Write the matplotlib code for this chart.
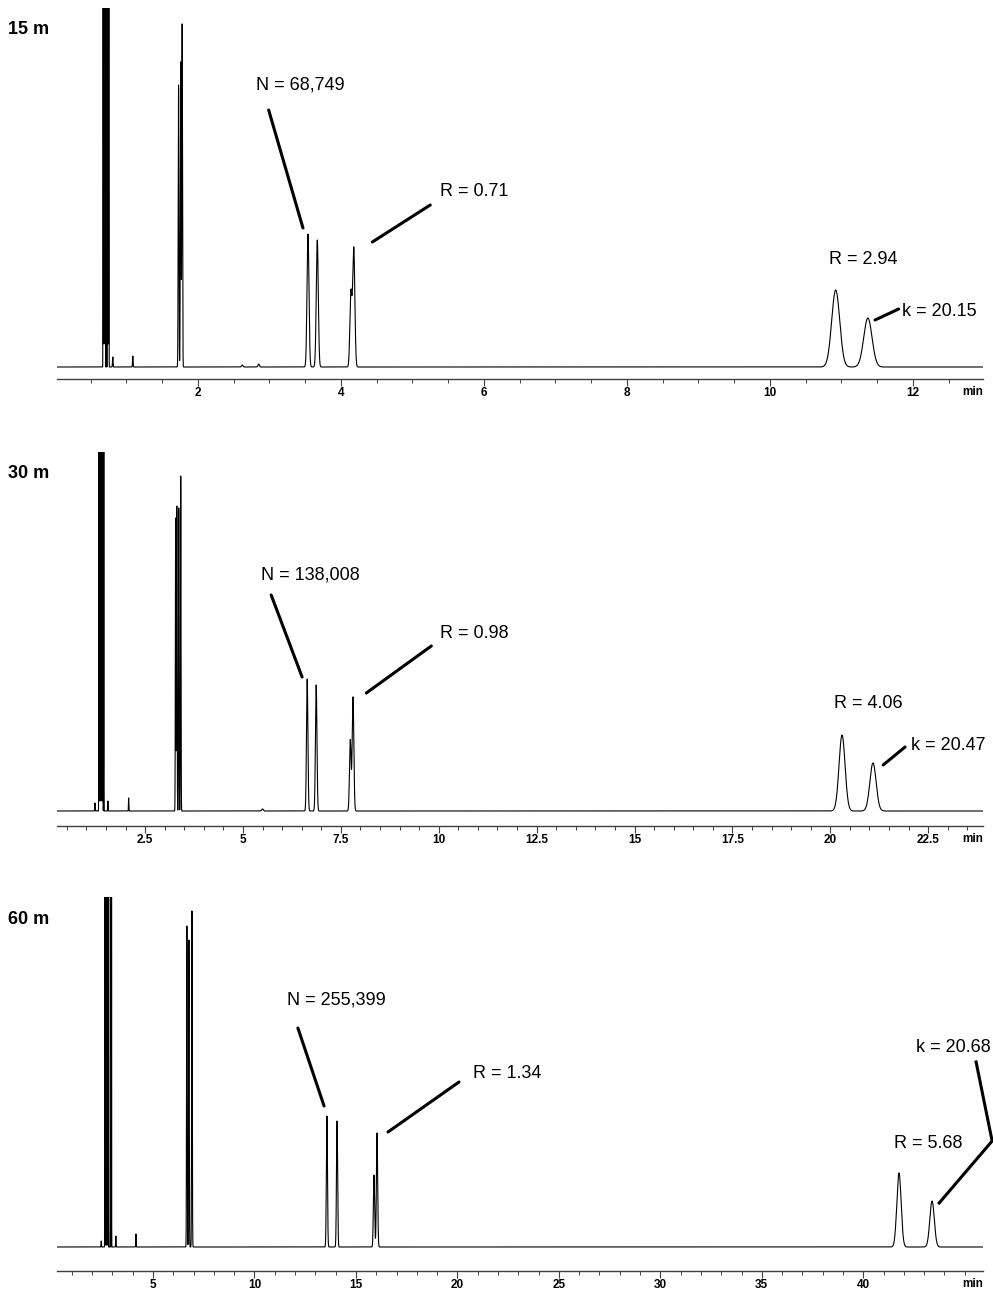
"""Хроматограми на колонках 15, 30 і 60 м"""
import numpy as np
import matplotlib.pyplot as plt
from matplotlib.ticker import MultipleLocator

plt.rcParams['font.family'] = ['Liberation Sans', 'DejaVu Sans']

# час утримання (хв), висота (відн. од.), ширина sigma (хв)
t15 = [0.675, 0.685, 0.695, 0.705, 0.72, 0.735, 0.745, 0.755, 0.81, 1.09,
       1.73, 1.76, 1.78, 2.62, 2.85,
       3.54, 3.67, 4.14, 4.18, 10.92, 11.37]
h15 = [3000, 3000, 3000, 3000, 3000, 3000, 3000, 3000, 10, 11,
       282, 305, 343, 2, 3,
       133, 127, 74, 119, 77, 49]
s15 = [0.0015, 0.0015, 0.0015, 0.0015, 0.0015, 0.0015, 0.0015, 0.0015, 0.004, 0.004,
       0.005, 0.005, 0.005, 0.01, 0.01,
       0.0135, 0.014, 0.014, 0.015, 0.056, 0.058]

t30 = [1.22, 1.32, 1.34, 1.36, 1.38, 1.40, 1.42, 1.445, 1.55, 2.08,
       3.28, 3.31, 3.36, 3.41, 5.5,
       6.64, 6.87, 7.74, 7.81, 20.30, 21.09]
h30 = [8, 3000, 3000, 3000, 3000, 3000, 3000, 3000, 10, 13,
       293, 305, 303, 335, 2,
       132, 126, 71, 114, 76, 48]
s30 = [0.005, 0.0028, 0.0028, 0.0028, 0.0028, 0.0028, 0.0028, 0.0028, 0.005, 0.005,
       0.007, 0.007, 0.007, 0.007, 0.02,
       0.018, 0.019, 0.02, 0.021, 0.077, 0.08]

t60 = [2.45, 2.63, 2.67, 2.71, 2.75, 2.79, 2.90, 2.95, 3.17, 4.16,
       6.67, 6.77, 6.92,
       13.57, 14.07, 15.89, 16.04, 41.76, 43.39]
h60 = [6, 3000, 3000, 3000, 3000, 3000, 3000, 3000, 11, 13,
       321, 307, 336,
       131, 126, 72, 114, 74, 46]
s60 = [0.01, 0.005, 0.005, 0.005, 0.005, 0.005, 0.005, 0.005, 0.01, 0.01,
       0.015, 0.015, 0.015,
       0.027, 0.028, 0.03, 0.031, 0.105, 0.11]

labels = ['15 m', '30 m', '60 m']
xlims = [(0.03, 12.98), (0.25, 23.9), (0.27, 45.9)]
majors = [2, 2.5, 5]
minors = [0.5, 0.5, 1]

# розміщення панелей в пікселях: верх, ось x, базова лінія
px = [(8, 379, 367), (452, 826, 811), (897, 1271, 1247)]
W, H = 993, 1290

fig = plt.figure(figsize=(W/100, H/100), dpi=100)

def trace(t, times, heights, sig):
    y = np.zeros_like(t)
    for t0, h, s in zip(times, heights, sig):
        y += h*np.exp(-0.5*((t-t0)/s)**2)
    return y

data = [(t15, h15, s15), (t30, h30, s30), (t60, h60, s60)]
axes = []
for i in range(3):
    top, axy, base = px[i]
    ax = fig.add_axes([57/W, 1-axy/H, (983-57)/W, (axy-top)/H])
    t = np.linspace(xlims[i][0], xlims[i][1], 120000)
    ax.plot(t, trace(t, *data[i]), color='k', lw=0.8)
    ax.set_xlim(*xlims[i])
    ax.set_ylim(-(axy-base), base-top)
    for s in ['left', 'right', 'top']:
        ax.spines[s].set_visible(False)
    ax.spines['bottom'].set_color('0.25')
    ax.spines['bottom'].set_linewidth(1.0)
    ax.set_yticks([])
    ax.xaxis.set_major_locator(MultipleLocator(majors[i]))
    ax.xaxis.set_minor_locator(MultipleLocator(minors[i]))
    ax.tick_params(axis='x', which='major', length=5, width=0.8, color='0.25', pad=1)
    ax.tick_params(axis='x', which='minor', length=3, width=0.7, color='0.25')
    # останню мітку біля краю замінює "min"
    ticks = [v for v in ax.get_xticks()
             if xlims[i][0] < v < xlims[i][1] - 0.3*majors[i]]
    ax.set_xticks(ticks)
    ax.set_xticklabels(['{:g}'.format(v) for v in ticks], fontsize=8.5, fontweight='bold')
    ax.annotate('min', xy=(1, 0), xycoords='axes fraction', xytext=(0, -13),
                textcoords='offset pixels', ha='right', va='center',
                fontsize=8.5, fontweight='bold')
    fig.text(8/W, 1-(top+22)/H, labels[i], fontsize=13, fontweight='bold', va='center')
    axes.append(ax)

ax1, ax2, ax3 = axes
lkw = dict(arrowstyle='-', lw=2.2, color='k', shrinkA=0, shrinkB=0)
fs = 13

# 15 m
ax1.annotate('', xy=(3.47, 139), xytext=(2.99, 257), arrowprops=lkw)
ax1.text(3.43, 282, 'N = 68,749', fontsize=fs, ha='center', va='center')
ax1.annotate('', xy=(4.44, 125), xytext=(5.25, 162), arrowprops=lkw)
ax1.text(5.39, 175, 'R = 0.71', fontsize=fs, ha='left', va='center')
ax1.text(11.3, 107, 'R = 2.94', fontsize=fs, ha='center', va='center')
ax1.annotate('', xy=(11.47, 47), xytext=(11.80, 58), arrowprops=lkw)
ax1.text(11.85, 56, 'k = 20.15', fontsize=fs, ha='left', va='center')

# 30 m
ax2.annotate('', xy=(6.51, 134), xytext=(5.72, 216), arrowprops=lkw)
ax2.text(6.72, 236, 'N = 138,008', fontsize=fs, ha='center', va='center')
ax2.annotate('', xy=(8.15, 118), xytext=(9.81, 165), arrowprops=lkw)
ax2.text(10.04, 177, 'R = 0.98', fontsize=fs, ha='left', va='center')
ax2.text(20.97, 108, 'R = 4.06', fontsize=fs, ha='center', va='center')
ax2.annotate('', xy=(21.35, 46), xytext=(21.91, 64), arrowprops=lkw)
ax2.text(22.05, 66, 'k = 20.47', fontsize=fs, ha='left', va='center')

# 60 m
ax3.annotate('', xy=(13.43, 141), xytext=(12.14, 219), arrowprops=lkw)
ax3.text(14.02, 247, 'N = 255,399', fontsize=fs, ha='center', va='center')
ax3.annotate('', xy=(16.58, 115), xytext=(20.08, 165), arrowprops=lkw)
ax3.text(20.77, 174, 'R = 1.34', fontsize=fs, ha='left', va='center')
ax3.text(43.19, 104, 'R = 5.68', fontsize=fs, ha='center', va='center')
ax3.plot([45.56, 46.35, 43.74], [185, 106, 44], color='k', lw=2.2, clip_on=False,
         solid_joinstyle='miter')
ax3.text(46.3, 199, 'k = 20.68', fontsize=fs, ha='right', va='center')

fig.savefig('out.png', dpi=100)
